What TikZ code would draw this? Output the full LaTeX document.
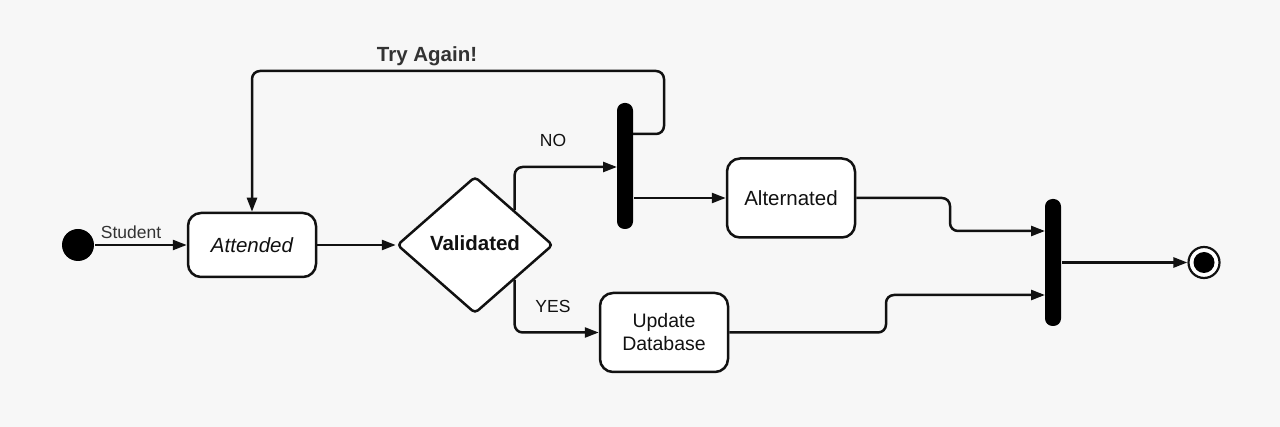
\documentclass[tikz,border=0pt]{standalone}
\usepackage{fontspec}
\setmainfont{Liberation Sans}
\usetikzlibrary{arrows.meta,shapes.geometric}
\definecolor{bg}{HTML}{F7F7F7}
\definecolor{txt}{HTML}{333333}
\definecolor{ink}{HTML}{111111}
\begin{document}
\begin{tikzpicture}[x=1pt,y=-1pt,line width=2.5pt,draw=ink,
  arr/.style={-{Triangle[length=14pt,width=10pt]},rounded corners=8pt},
  state/.style={draw,fill=white,rounded corners=13pt,minimum width=128pt,minimum height=64pt,inner sep=0pt,align=center,text=ink},
  bar/.style={fill=black,rounded corners=7.5pt,minimum width=16pt,inner sep=0pt},
  lbl/.style={font=\fontsize{17.5}{20}\selectfont,text=txt,inner sep=0pt}]
\useasboundingbox[fill=bg] (0,0) rectangle (1280,427);
% nodes
\node[circle,fill=black,minimum size=32pt,inner sep=0pt] (start) at (78,245) {};
\node[state,font=\fontsize{20.5}{23}\selectfont\itshape] (att) at (252,245) {Attended};
\node[diamond,draw,fill=white,rounded corners=4pt,minimum width=156pt,minimum height=137pt,inner sep=0pt,text=ink,font=\fontsize{20.5}{23}\selectfont\bfseries] (val) at (475,245) {\raisebox{3pt}{Validated}};
\node[bar,minimum height=126pt] (bar1) at (625,166) {};
\node[state,minimum height=79pt,font=\fontsize{20.5}{23}\selectfont] (alt) at (791,198) {Alternated};
\node[state,minimum height=79pt,font=\fontsize{19.5}{23}\selectfont] (upd) at (664,332.5) {Update\\Database};
\node[bar,minimum height=127pt] (bar2) at (1053,262.5) {};
\node[circle,draw,fill=white,line width=2.2pt,minimum size=31pt,inner sep=0pt] (end) at (1204,262.5) {};
\node[circle,fill=black,minimum size=21pt,inner sep=0pt] (endin) at (end) {};
% labels
\node[lbl] (lstudent) at (131,232) {Student};
\node[lbl,text=ink] (lno) at (553,140) {NO};
\node[lbl,text=ink] (lyes) at (553,306) {YES};
\node[font=\fontsize{20.5}{23}\selectfont\bfseries,text=txt,inner sep=0pt] (ltry) at (427,56) {Try Again!};
% helper coordinates
\coordinate (noin) at (617,167);
\coordinate (tryout) at (633,134);
\coordinate (tr1) at (664,134);
\coordinate (tr2) at (664,71);
\coordinate (tr3) at (252,71);
\coordinate (a1) at (950,198);
\coordinate (a2) at (950,231);
\coordinate (a3) at (1045,231);
\coordinate (u1) at (886,332.5);
\coordinate (u2) at (886,295);
\coordinate (u3) at (1045,295);
% connectors
\draw[arr] (start) -- (att);
\draw[arr] (att) -- (val);
\draw[arr] (val.north east) |- (noin);
\draw[arr] (val.south east) |- (upd.west);
\draw[arr] (tryout) -- (tr1) -- (tr2) -- (tr3) -- (att.north);
\draw[arr] (bar1.east |- alt.west) -- (alt.west);
\draw[arr] (alt.east) -- (a1) -- (a2) -- (a3);
\draw[arr] (upd.east) -- (u1) -- (u2) -- (u3);
\draw[arr] (bar2.east |- end.west) -- (end.west);
\end{tikzpicture}
\end{document}
